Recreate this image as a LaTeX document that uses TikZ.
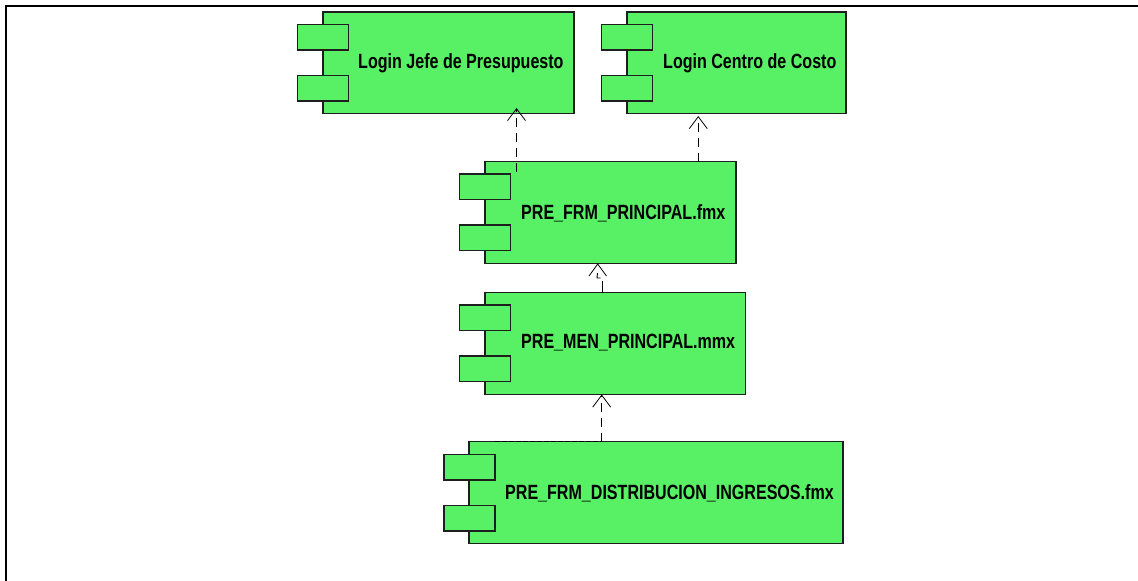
\documentclass[tikz,border=0pt]{standalone}
\usepackage{fontspec}
\setmainfont{Liberation Sans}[FakeStretch=0.78]
\usetikzlibrary{calc,arrows.meta}
\definecolor{compgreen}{RGB}{88,240,100}
\definecolor{compline}{RGB}{30,30,30}
\tikzset{
  x=1pt,y=-1pt,
  comp/.style={draw=compline,fill=compgreen,line width=1.1pt,inner sep=0pt,outer sep=0pt,anchor=north west},
  plug/.style={comp,minimum width=51pt,minimum height=25.5pt},
  complabel/.style={anchor=west,inner sep=0pt,font=\fontsize{20.6}{24}\selectfont\bfseries,text=black},
  dep/.style={draw=black,line width=0.9pt,dash pattern=on 9pt off 6pt,-{Straight Barb[length=12pt,width=18pt,line width=0.8pt]}},
}
\begin{document}
\begin{tikzpicture}
\useasboundingbox (0,0) rectangle (1138,581);
\draw[line width=2pt,black] (6,581) -- (6,6) -- (1138,6);

% Login Jefe de Presupuesto
\node[comp,minimum width=251pt,minimum height=101.5pt] (jefe) at (323,12) {};
\node[plug] (jefeA) at (297.5,24.5) {};
\node[plug] (jefeB) at (297.5,75.5) {};
\node[complabel] (jefeT) at (358,63) {Login Jefe de Presupuesto};

% Login Centro de Costo
\node[comp,minimum width=219pt,minimum height=101.5pt] (centro) at (627,12) {};
\node[plug] (centroA) at (601.5,24.5) {};
\node[plug] (centroB) at (601.5,75.5) {};
\node[complabel] (centroT) at (663,63) {Login Centro de Costo};

% PRE_FRM_PRINCIPAL
\node[comp,minimum width=251pt,minimum height=102pt] (frm) at (485,161.5) {};
\node[plug] (frmA) at (459.5,174) {};
\node[plug] (frmB) at (459.5,225) {};
\node[complabel] (frmT) at (521,213) {PRE\_FRM\_PRINCIPAL.fmx};

% PRE_MEN_PRINCIPAL
\node[comp,minimum width=260.5pt,minimum height=102pt] (men) at (485,292.5) {};
\node[plug] (menA) at (459.5,305) {};
\node[plug] (menB) at (459.5,356) {};
\node[complabel] (menT) at (521,343) {PRE\_MEN\_PRINCIPAL.mmx};

% PRE_FRM_DISTRIBUCION_INGRESOS
\node[comp,minimum width=374pt,minimum height=102pt] (dist) at (469,441.7) {};
\node[plug] (distA) at (444,454.5) {};
\node[plug] (distB) at (444,505.5) {};
\node[complabel] (distT) at (505,493) {PRE\_FRM\_DISTRIBUCION\_INGRESOS.fmx};

% connector ends
\coordinate (jefeIn) at (516.5,108);
\coordinate (frmOutJ) at (516.5,172);
\coordinate (centroIn) at (698.3,116);
\coordinate (frmOutC) at (698.3,161.5);
\coordinate (frmIn) at (597.7,264);
\coordinate (menOut) at (602.7,292.5);
\coordinate (menKnee) at (602.7,281);
\coordinate (menIn) at (601.7,394.5);
\coordinate (distTurn) at (601.7,441.7);
\coordinate (distOut) at (495,441.7);

\draw[dep] (frmOutJ) -- (jefeIn);
\draw[dep] (frmOutC) -- (centroIn);
\draw[line width=0.9pt] (menOut) -- (menKnee);
\draw[line width=0.9pt] (597.5,273) -- (597,278) -- (600.5,278);
\draw[draw=black,line width=0.8pt] (589,276) -- (frmIn) -- (606.5,276);
\draw[dep] (distTurn) -- (menIn);
\draw[line width=1.4pt,dash pattern=on 5pt off 2pt] (distOut) -- (distTurn);
\end{tikzpicture}
\end{document}
